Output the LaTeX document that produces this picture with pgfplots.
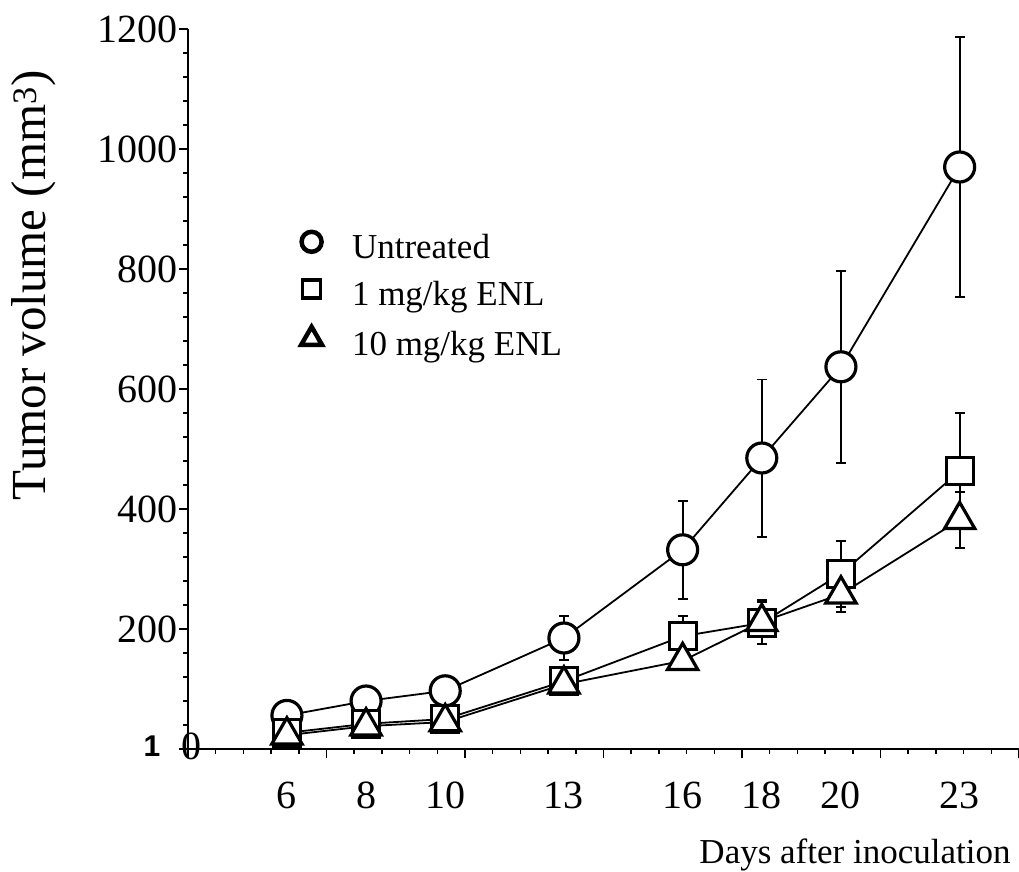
\documentclass[border=0pt]{standalone}
\usepackage{fontspec}
\setmainfont{Liberation Serif}
\newfontfamily\sansbold{Liberation Sans}
\usepackage{pgfplots}
\usepackage{pgfplotstable}
\pgfplotsset{compat=1.18}

\pgfplotstableread{
x  y    e
6  56   10
8  80   10
10 97   10
13 185  37
16 332  82
18 485  131
20 637  160
23 970  217
}\untreated
\pgfplotstableread{
x  y    e
6  27   8
8  42   8
10 50   8
13 113  20
16 188  34
18 210  35
20 292  55
23 463  97
}\onemg
\pgfplotstableread{
x  y    e
6  23   6
8  38   6
10 45   6
13 108  15
16 147  15
18 212  37
20 258  30
23 382  47
}\tenmg

\begin{document}
\begin{tikzpicture}
\path[use as bounding box] (-188pt,-122pt) rectangle (831pt,749pt);
\begin{axis}[
  scale only axis,
  width=831pt, height=720pt,
  at={(0pt,0pt)}, anchor=south west,
  clip=false,
  xmin=3.5, xmax=24.5, ymin=0, ymax=1200,
  axis x line*=bottom, axis y line*=left,
  axis line style={line width=1.8pt, -},
  xtick={3.5,7,10.5,14,17.5,21,24.5}, xticklabels={},
  minor x tick num=4,
  extra x ticks={6,8,10,13,16,18,20,23},
  extra x tick labels={6,8,10,13,16,18,20,23},
  extra x tick style={major tick length=0pt, tick label style={anchor=base, yshift=-59pt}},
  ytick={0,200,...,1200}, yticklabels={,200,400,600,800,1000,1200},
  minor y tick num=4,
  tick align=outside,
  major tick length=9pt, minor tick length=5pt,
  every tick/.style={black, line width=1.5pt},
  tick label style={font=\fontsize{40}{42}\selectfont},
  yticklabel style={xshift=2pt},
  /pgf/number format/assume math mode=true,
  ylabel={Tumor volume (mm\textsuperscript{3})},
  ylabel style={at={(rel axis cs:-0.186,0.644)}, anchor=center, font=\fontsize{49}{50}\selectfont},
  xlabel={Days after inoculation},
  xlabel style={at={(rel axis cs:0.994,-0.1597)}, anchor=base east, font=\fontsize{35}{36}\selectfont},
  legend style={at={(rel axis cs:0.136,0.7186)}, anchor=north west, draw=none, fill=none,
    inner xsep=0pt, inner ysep=0pt, row sep=12pt, column sep=30pt,
    font=\fontsize{35}{36}\selectfont,
    nodes={inner sep=0pt, text height=25pt, text depth=9pt}},
  legend cell align=left,
  legend image post style={yshift=9pt},
]
\addlegendimage{only marks, mark=*, mark size=10pt, mark options={fill=white, draw=black, line width=4.5pt}}
\addlegendentry{Untreated}
\addlegendimage{only marks, mark=square*, mark size=9pt, mark options={fill=white, draw=black, line width=3.5pt}}
\addlegendentry{1 mg/kg ENL}
\addlegendimage{only marks, mark=triangle*, mark size=12pt, mark options={fill=white, draw=black, line width=4.5pt}}
\addlegendentry{10 mg/kg ENL}

\addplot[forget plot, black, line width=1.8pt, mark=*, mark size=15pt,
  mark options={fill=white, draw=black, line width=3.2pt},
  error bars/.cd, y dir=both, y explicit,
  error bar style={line width=1.8pt},
  error mark=-,
  error mark options={rotate=90, line width=1.8pt, mark size=5pt}]
  table[x=x, y=y, y error=e] {\untreated};
\addplot[forget plot, black, line width=1.8pt, mark=square*, mark size=13.5pt,
  mark options={fill=white, draw=black, line width=3.2pt},
  error bars/.cd, y dir=both, y explicit,
  error bar style={line width=1.8pt},
  error mark=-,
  error mark options={rotate=90, line width=1.8pt, mark size=5pt}]
  table[x=x, y=y, y error=e] {\onemg};
\addplot[forget plot, black, line width=1.8pt, mark=triangle*, mark size=17.5pt,
  mark options={fill=white, draw=black, line width=3.2pt},
  error bars/.cd, y dir=both, y explicit,
  error bar style={line width=1.8pt},
  error mark=-,
  error mark options={rotate=90, line width=1.8pt, mark size=5pt}]
  table[x=x, y=y, y error=e] {\tenmg};

\node[font=\fontsize{40}{42}\selectfont] at (axis cs:3.5,0) [xshift=4pt, yshift=3pt] {0};
\node[font=\sansbold\bfseries\fontsize{30}{30}\selectfont] at (axis cs:3.5,0) [xshift=-36pt, yshift=3pt] {1};
\end{axis}
\end{tikzpicture}
\end{document}
